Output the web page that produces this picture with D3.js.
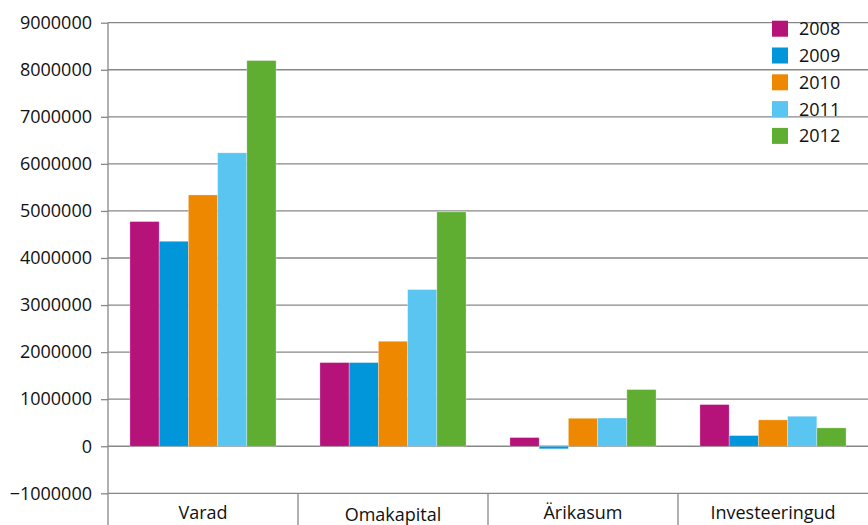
<!DOCTYPE html>
<html>
<head>
<meta charset="utf-8">
<script src="https://cdn.jsdelivr.net/npm/d3@7"></script>
<style>
  html, body { margin: 0; padding: 0; background: #fff; }
  svg { display: block; }
  text { font-family: "Open Sans", "Noto Sans", sans-serif; fill: #111; }
</style>
</head>
<body>
<svg id="chart" width="868" height="525"></svg>
<script>
const categories = ["Varad", "Omakapital", "Ärikasum", "Investeeringud"];
const years = ["2008", "2009", "2010", "2011", "2012"];
const values2008 = [4775000, 1778000, 185000, 886000];
const values2009 = [4356000, 1778000, -55000, 227000];
const values2010 = [5340000, 2231000, 595000, 560000];
const values2011 = [6235000, 3330000, 600000, 638000];
const values2012 = [8196000, 4980000, 1205000, 390000];
const seriesValues = [values2008, values2009, values2010, values2011, values2012];
const colors = ["#B5127A", "#0096D9", "#EE8800", "#5BC5F2", "#5FAE32"];
const yTicks = [-1000000, 0, 1000000, 2000000, 3000000, 4000000, 5000000, 6000000, 7000000, 8000000, 9000000];

const svg = d3.select("#chart");
const pLeft = 108, pRight = 868, pTop = 22.7, pBottom = 493.3;

const y = d3.scaleLinear().domain([-1000000, 9000000]).range([pBottom, pTop]);
const x0 = d3.scaleBand().domain(categories).range([pLeft, pRight]).padding(0);
const x1 = d3.scaleBand().domain(years).range([0, x0.bandwidth()]).paddingInner(0).paddingOuter(0.75);

// gridlines
svg.append("g").selectAll("line").data(yTicks.filter(t => t >= 0)).join("line")
  .attr("x1", pLeft).attr("x2", pRight)
  .attr("y1", d => y(d)).attr("y2", d => y(d))
  .attr("stroke", "#878787").attr("stroke-width", 1.3);

// bars
const rows = [];
categories.forEach((c, i) => years.forEach((yr, j) => rows.push({c, yr, v: seriesValues[j][i], color: colors[j]})));
svg.append("g").selectAll("rect").data(rows).join("rect")
  .attr("x", d => x0(d.c) + x1(d.yr))
  .attr("width", x1.bandwidth())
  .attr("y", d => y(Math.max(0, d.v)))
  .attr("height", d => Math.abs(y(d.v) - y(0)))
  .attr("fill", d => d.color)
  .attr("stroke", "#ffffff").attr("stroke-opacity", 0.5).attr("stroke-width", 0.6);

// y axis
const yAxis = d3.axisLeft(y).tickValues(yTicks).tickSize(7).tickPadding(9).tickFormat(d3.format("d"));
const ya = svg.append("g").attr("transform", `translate(${pLeft},0)`).call(yAxis);
ya.select(".domain").remove();
ya.selectAll(".tick line").attr("stroke", "#878787").attr("stroke-width", 1.3);
ya.selectAll(".tick text").attr("font-size", 18).attr("fill", "#111")
  .style("font-family", '"Open Sans", sans-serif');
svg.append("line").attr("x1", pLeft).attr("x2", pLeft).attr("y1", pTop).attr("y2", 525)
  .attr("stroke", "#878787").attr("stroke-width", 1.3);

// x axis line and category separators
svg.append("line").attr("x1", pLeft).attr("x2", pRight).attr("y1", y(-1000000)).attr("y2", y(-1000000))
  .attr("stroke", "#878787").attr("stroke-width", 1.3);
svg.append("g").selectAll("line").data(categories.slice(1)).join("line")
  .attr("x1", d => x0(d)).attr("x2", d => x0(d))
  .attr("y1", y(-1000000)).attr("y2", 525)
  .attr("stroke", "#878787").attr("stroke-width", 1.3);

svg.append("g").selectAll("text").data(categories).join("text")
  .attr("x", d => x0(d) + x0.bandwidth() / 2)
  .attr("y", d => d === "Omakapital" ? 520.5 : 519)
  .attr("text-anchor", "middle").attr("font-size", 18)
  .text(d => d);

// legend
const lg = svg.append("g").attr("transform", "translate(772,20.7)");
const li = lg.selectAll("g").data(years).join("g").attr("transform", (d, i) => `translate(0,${i * 26.8})`);
li.append("rect").attr("width", 16).attr("height", 16).attr("fill", (d, i) => colors[i]);
li.append("text").attr("x", 27).attr("y", 14.5).attr("font-size", 18).text(d => d);
</script>
</body>
</html>
